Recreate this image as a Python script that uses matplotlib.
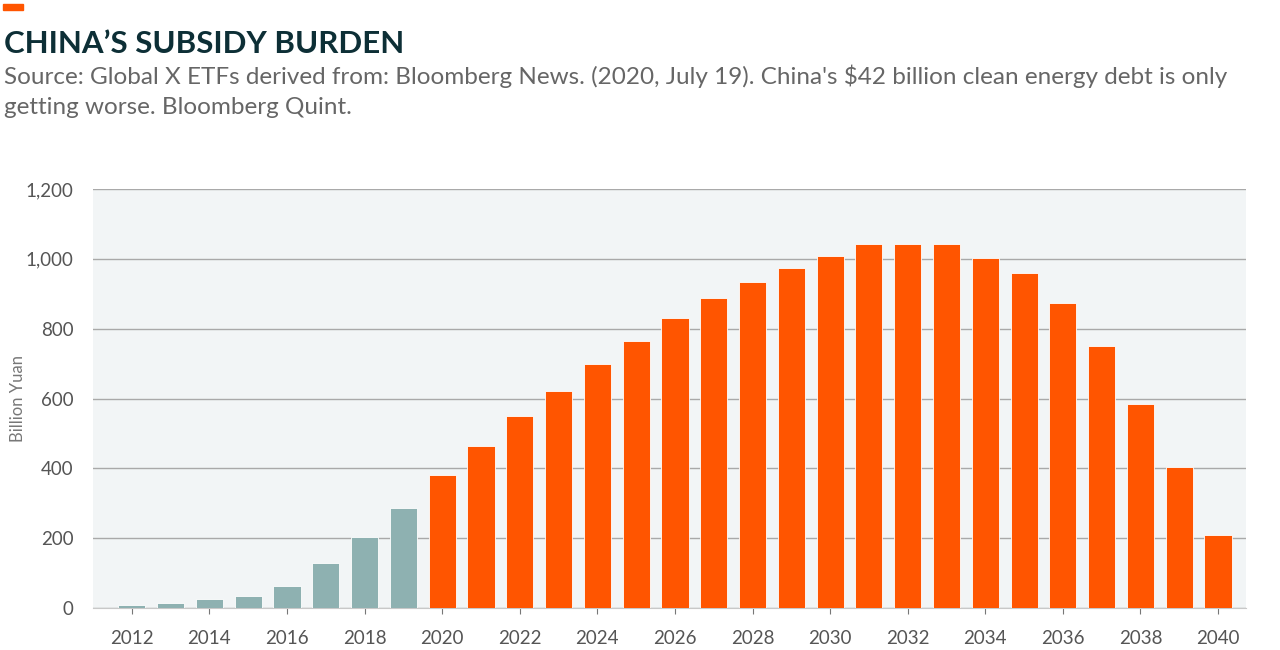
import matplotlib.pyplot as plt
import matplotlib.patches as mpatches
from matplotlib.ticker import FuncFormatter

years = list(range(2012, 2041))
values = [9, 13, 26, 35, 63, 128, 203, 287,
          381, 464, 550, 621, 699, 765, 830, 888, 934, 974, 1008,
          1042, 1042, 1042, 1002, 959, 873, 750, 584, 404, 209]
last_actual = 2019

teal = '#8eb1b1'
orange = '#ff5500'
colors = [teal if y <= last_actual else orange for y in years]

plt.rcParams['font.family'] = ['Lato', 'DejaVu Sans']

fig = plt.figure(figsize=(12.8, 6.5), dpi=100)
ax = fig.add_axes([93 / 1280, 1 - 608 / 650, (1246 - 93) / 1280, (608 - 189) / 650])
ax.set_facecolor('#f2f5f6')

ax.bar(years, values, width=0.7, color=colors, edgecolor='white', linewidth=0.6, zorder=3)

ax.set_ylim(0, 1200)
ax.set_xlim(2011.0, 2040.72)
ax.set_yticks(range(0, 1201, 200))
ax.yaxis.set_major_formatter(FuncFormatter(lambda v, p: f'{int(v):,}'))
ax.set_xticks(range(2012, 2041, 2))
ax.grid(axis='y', color='#a9a9a9', linewidth=1, zorder=1)
for s in ['top', 'right', 'left']:
    ax.spines[s].set_visible(False)
ax.spines['bottom'].set_color('#c8c8c8')
ax.tick_params(axis='y', length=0, pad=14, labelsize=13.5, labelcolor='#555555')
ax.tick_params(axis='x', length=4, color='#777777', pad=12, labelsize=13.5, labelcolor='#555555')
ax.set_ylabel('Billion Yuan', fontsize=12, color='#777777')
ax.yaxis.set_label_coords(-0.058, 0.5)

fig.patches.append(mpatches.Rectangle((3 / 1280, 1 - 10 / 650), 20 / 1280, 6 / 650,
                                      transform=fig.transFigure, color=orange))
fig.text(4 / 1280, 1 - 53 / 650, 'CHINA’S SUBSIDY BURDEN', fontsize=22.5, fontweight='bold',
         color='#0d2f36')
fig.text(4 / 1280, 1 - 84 / 650,
         "Source: Global X ETFs derived from: Bloomberg News. (2020, July 19). China's $42 billion clean energy debt is only",
         fontsize=17.5, color='#666666')
fig.text(4 / 1280, 1 - 114 / 650, 'getting worse. Bloomberg Quint.', fontsize=17.5, color='#666666')

fig.savefig('out.png', dpi=100)
